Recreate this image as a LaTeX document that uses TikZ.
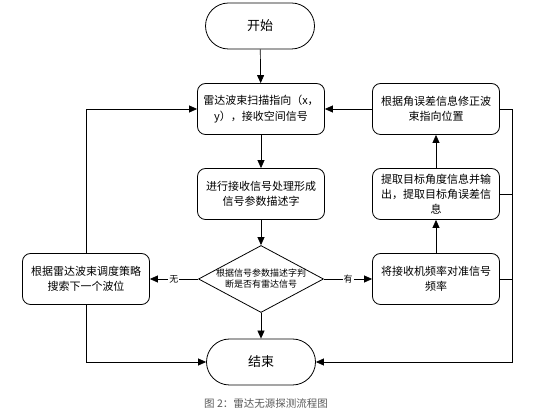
\documentclass[tikz,border=0pt]{standalone}
\usepackage{fontspec}
\newfontfamily\cjk{Noto Sans CJK SC}
\usetikzlibrary{arrows.meta,shapes.geometric}
\tikzset{box/.style={draw, thick, rounded corners=8pt, minimum width=127pt, minimum height=51pt, align=center, inner sep=2pt, font=\cjk\fontsize{11}{15.5}\selectfont},
term/.style={draw, thick, rounded corners=23pt, minimum width=109pt, minimum height=46pt, font=\cjk\fontsize{13}{16}\selectfont},
dec/.style={draw, thick, diamond, aspect=1.87, inner sep=0pt, minimum width=125pt, minimum height=67pt},
tag/.style={fill=white, inner sep=1pt, font=\cjk\fontsize{9}{10}\selectfont}}

\begin{document}
\begin{tikzpicture}[x=1pt,y=-1pt,>={Triangle[length=8pt,width=7pt]},line width=0.7pt]
        \useasboundingbox (0,0) rectangle (552,419);

        \node[term](start)at(260,26){开始};
        \node[box](scan)at(261,109){雷达波束扫描指向（x，\\y），接收空间信号};
        \node[box](proc)at(261,194){进行接收信号处理形成\\信号参数描述字};
        \node[dec](dia)at(261,279){};
        \node[align=center, font=\cjk\fontsize{9}{11}\selectfont](diatext)at(261,279){根据信号参数描述字判\\断是否有雷达信号};
        \node[box](search)at(86,279){根据雷达波束调度策略\\搜索下一个波位};
        \node[box](tune)at(436,279){将接收机频率对准信号\\频率};
        \node[box, font=\cjk\fontsize{11}{15}\selectfont](extract)at(436,194){提取目标角度信息并输\\出，提取目标角误差信\\息};
        \node[box](correct)at(436,109){根据角误差信息修正波\\束指向位置};
        \node[term](stop)at(261,362){结束};
        \node[font=\cjk\fontsize{10.5}{12}\selectfont, text=black!65](caption)at(266,404){图 2：雷达无源探测流程图};
        \coordinate(rbus)at(512,362);

        \draw[->](start)--(scan);
        \draw[->](scan)--(proc);
        \draw[->](proc)--(dia);
        \draw[->](dia)--node[tag]{无}(search);
        \draw[->](dia)--node[tag]{有}(tune);
        \draw[->](dia)--(stop);
        \draw[->](tune)--(extract);
        \draw[->](extract)--(correct);
        \draw[->](correct)--(scan);

        \draw[->](search.north)|-(scan.west);
        \draw[->](search.south)|-(stop.west);

        \draw[->](correct.east)-|(rbus)--(stop.east);
        \draw(extract.east)--(extract.east-|rbus);
        \draw(tune.east)--(tune.east-|rbus);
    \end{tikzpicture}
\end{document}
